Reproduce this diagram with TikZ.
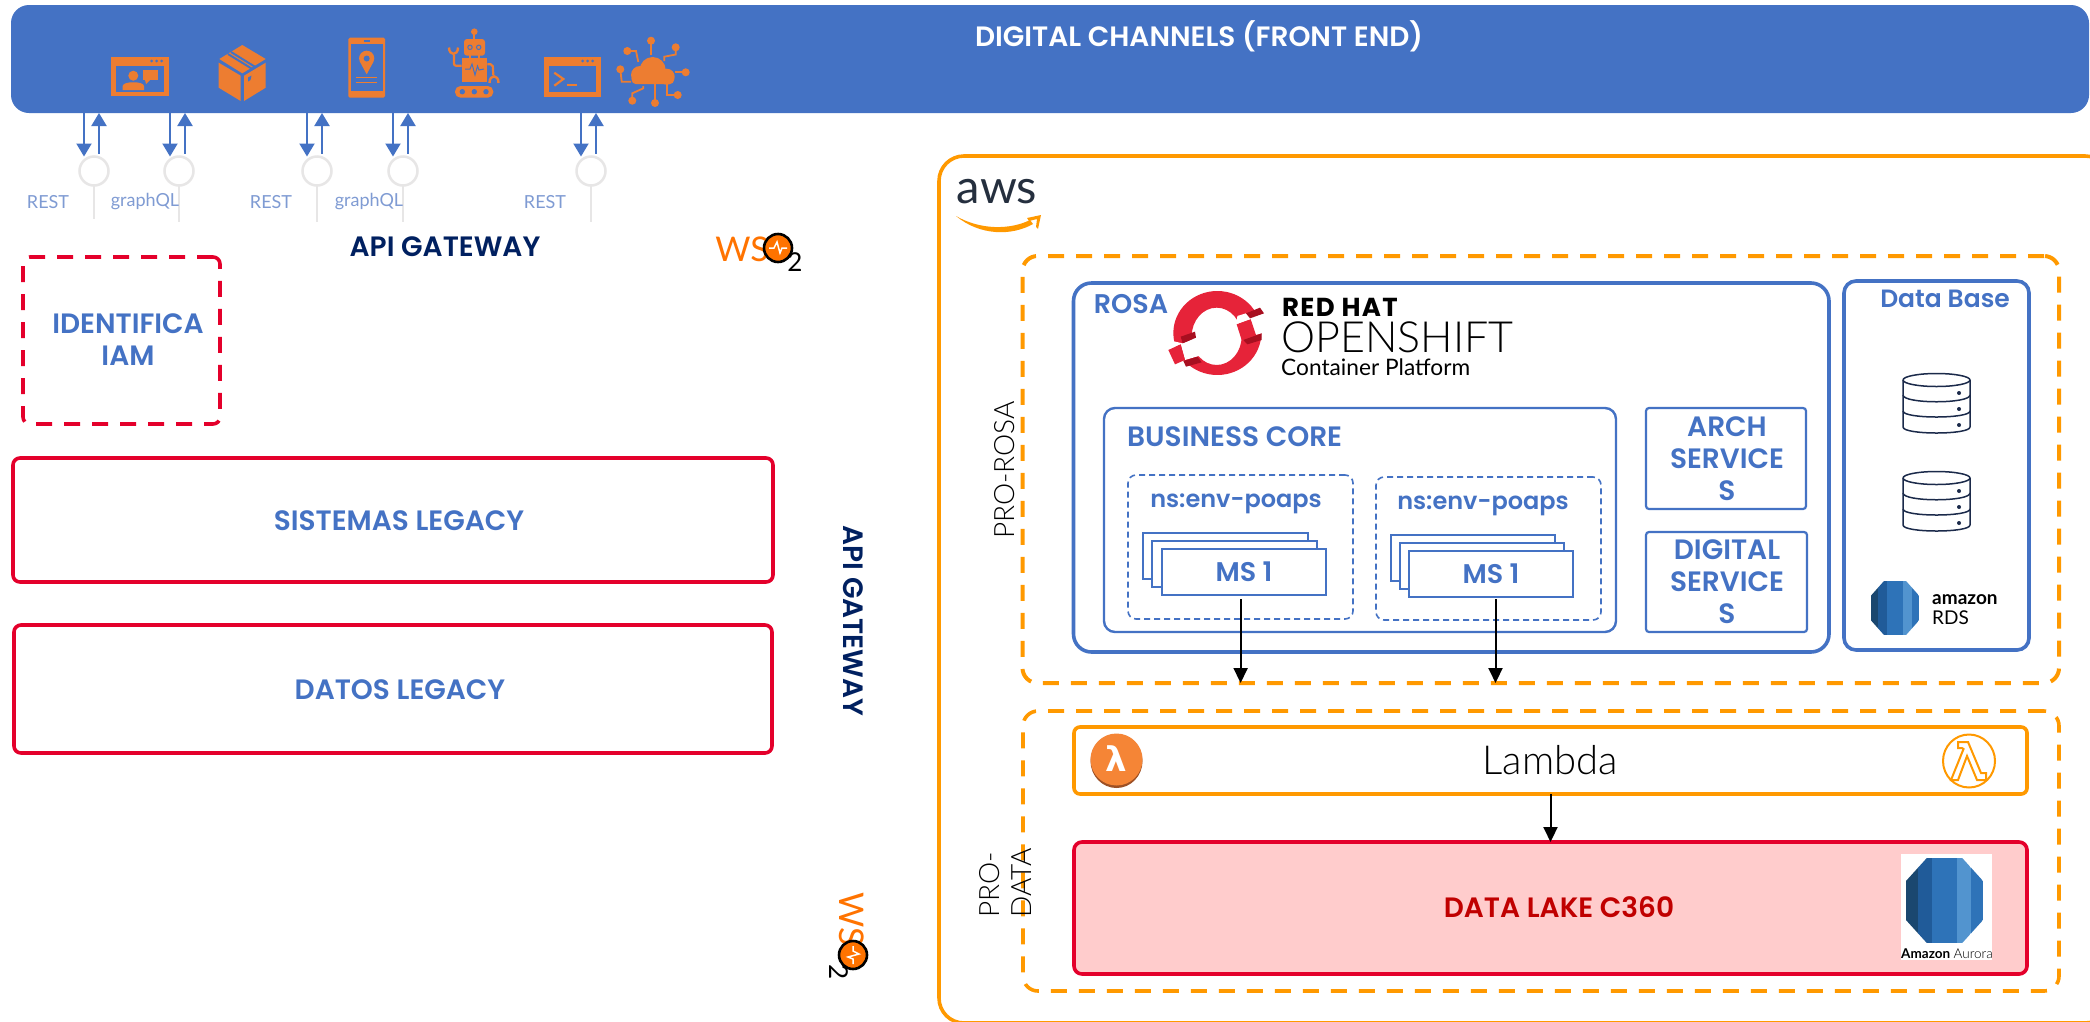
\documentclass[tikz,border=0pt]{standalone}
\usepackage{fontspec}
\usetikzlibrary{arrows.meta}
\setmainfont{Poppins}[BoldFont=Poppins SemiBold]
\newfontfamily\thinf{Lato Light}
\newfontfamily\lato{Lato}
\newfontfamily\rhf{Poppins Bold}[LetterSpace=5]
\newfontfamily\dejav{DejaVu Sans}
\definecolor{blu}{HTML}{4472C4}
\definecolor{org}{HTML}{ED7D31}
\definecolor{aws}{HTML}{FF9900}
\definecolor{rd}{HTML}{E4002B}
\definecolor{navy}{HTML}{002060}
\definecolor{gry}{HTML}{E7E6E6}
\definecolor{lbl}{HTML}{7F9BD3}
\definecolor{wso}{HTML}{FF7300}
\definecolor{rh}{HTML}{E62339}
\definecolor{rhd}{HTML}{A80F20}
\definecolor{dbn}{HTML}{1B2A4A}
\newcommand{\fs}[2]{\fontsize{#1}{#2}\selectfont}
\newcommand{\bx}[7]{\pgfmathsetmacro\bw{#4-#2}\pgfmathsetmacro\bh{#5-#3}%
  \node[#6,minimum width=\bw pt,minimum height=\bh pt,inner sep=0pt,outer sep=0pt,anchor=north west,align=center] (#1) at (#2,#3) {#7};}
\tikzset{
  hdtxt/.style={text=blu,font=\bfseries\fs{28}{32},align=center,inner sep=0pt},
  soft/.style={text=lbl,font=\lato\fs{18}{20},inner sep=0pt},
  redbox/.style={draw=rd,line width=3.6pt,rounded corners=7pt},
  bluebox/.style={draw=blu,rounded corners=12pt},
  orgdash/.style={draw=aws,line width=4pt,rounded corners=15pt,dash pattern=on 16pt off 12pt},
  msbox/.style={draw=blu,line width=2pt,fill=white},
  nsbox/.style={draw=blu,line width=1.6pt,rounded corners=8pt,dash pattern=on 6pt off 4pt},
  blueline/.style={draw=blu,line width=2pt,-{Triangle[width=15pt,length=13pt]}},
  blackline/.style={draw=black,line width=2pt,-{Triangle[width=14pt,length=15pt]}},
  lolli/.style={circle,draw=gry,line width=2.5pt,minimum size=29pt,inner sep=0pt,outer sep=0pt},
  stem/.style={draw=gry,line width=2.5pt},
  ico/.style={fill=org,draw=none},
  icl/.style={draw=org,line width=1.8pt,fill=none},
  cyl/.pic={
    \begin{scope}
      \clip (0,.27)--(.27,0)--(.73,0)--(1,.27)--(1,.73)--(.73,1)--(.27,1)--(0,.73)--cycle;
      \fill[color={rgb,255:red,26;green,71;blue,111}] (0,0) rectangle (.15,1);
      \fill[color={rgb,255:red,32;green,91;blue,153}] (.15,0) rectangle (.34,1);
      \fill[color={rgb,255:red,46;green,115;blue,184}] (.34,0) rectangle (.66,1);
      \fill[color={rgb,255:red,82;green,148;blue,207}] (.66,0) rectangle (.85,1);
      \fill[color={rgb,255:red,46;green,115;blue,184}] (.85,0) rectangle (1,1);
    \end{scope}
  },
  dbicon/.pic={
    \draw[dbn,line width=1.5pt] (-33.5,0) arc[x radius=33.5,y radius=6.5,start angle=180,end angle=540];
    \draw[dbn,line width=1.5pt] (-33.5,0) -- (-33.5,47) .. controls (-33.5,55) and (33.5,55) .. (33.5,47) -- (33.5,0);
    \draw[dbn,line width=1.5pt] (-33.5,15) .. controls (-33.5,24) and (33.5,24) .. (33.5,15);
    \draw[dbn,line width=1.5pt] (-33.5,31) .. controls (-33.5,39) and (33.5,39) .. (33.5,31);
    \foreach \yy in {13,29,45} \fill[dbn] (22.5,\yy) circle (2pt);
  },
  wsologo/.pic={
    \node[text=wso,font=\lato\fs{34}{35},inner sep=0pt,anchor=center] (ws) at (-36,1) {WS};
    \draw[black,fill=wso,line width=2.6pt] (0,0) circle (14pt);
    \draw[white,line width=1.5pt] (-9,0)--(-4,0)--(-1,-6)--(2,5)--(4,0)--(9,0);
    \node[text=black,font=\lato\fs{26}{26},inner sep=0pt] (two) at (17,14) {2};
  }
}
\begin{document}
\begin{tikzpicture}[x=1pt,y=-1pt]
\useasboundingbox (0,0) rectangle (2090,1021);
\fill[white] (0,0) rectangle (2090,1021);

% top bar
\bx{bar}{11}{5}{2089}{113}{fill=blu,rounded corners=18pt}{}
\node[text=white,font=\bfseries\fs{28}{30},inner sep=0pt] (title) at (1199,36) {DIGITAL CHANNELS (FRONT END)};

% icon 1: window with person
\fill[ico] (111,56.7) rectangle (169,96);
\fill[blu] (116,65.7) rectangle (164,91.7);
\foreach \xx in {151.7,156.7,161.7} \fill[blu] (\xx,61) circle (1.5pt);
\fill[ico] (133.3,75.7) circle (5pt);
\fill[ico] (122.7,90) -- (122.7,86) .. controls (122.7,81) and (144,81) .. (144,86) -- (144,90) -- cycle;
\fill[ico] (142.7,70) rectangle (158.3,80);
\fill[ico] (145,80) -- (146,84) -- (150,80) -- cycle;
% icon 2: parcel
\fill[ico] (242.3,45) -- (265.7,59) -- (242.3,73.3) -- (219.3,59) -- cycle;
\draw[blu,line width=2pt] (231,52) -- (254.5,66.5);
\draw[blu,line width=2pt] (228,54) -- (251.5,68.5);
\fill[ico] (218.7,62.7) -- (240.7,75.7) -- (240.7,101) -- (218.7,87.7) -- cycle;
\fill[ico] (265.7,62.7) -- (244,75.7) -- (244,101) -- (265.7,87.7) -- cycle;
\fill[blu] (248,77.5) -- (251.5,75.5) -- (250.5,80) -- (248,81.5) -- cycle;
% icon 3: phone
\fill[ico,rounded corners=1.5pt] (348.3,37.7) rectangle (385,97.7);
\fill[blu] (350.7,44.3) rectangle (382.7,91);
\draw[blu,line width=1.5pt] (363.5,41) -- (370,41);
\fill[ico] (366.7,74.3) -- (359.8,61.5) arc[radius=7.6pt,start angle=205,end angle=-25] -- cycle;
\fill[blu] (366.7,58.5) circle (3pt);
\draw[icl,line width=1.4pt] (356,77.3) -- (377.3,77.3) (356,82.3) -- (377.3,82.3);
% icon 4: robot
\fill[ico] (474.3,31.7) circle (3.3pt);
\draw[icl] (474.3,32) -- (474.3,40);
\fill[ico,rounded corners=3pt] (464,39) rectangle (485,55.7);
\draw[blu,line width=1pt] (470,47.3) circle (2.2pt) (478.7,47.3) circle (2.2pt);
\fill[ico] (461.7,58.3) rectangle (487.3,82.3);
\draw[blu,line width=1pt] (465,69) -- (470,69) -- (472,64) -- (475,75) -- (477.5,66) -- (479,70) -- (484,69);
\draw[icl,line width=2.2pt] (470,55) -- (470,59) (479,55) -- (479,59);
\fill[ico,rounded corners=5.5pt] (455,86) rectangle (493.3,97.7);
\foreach \xx in {462.3,474.3,486} \fill[blu] (\xx,91.7) circle (2.7pt);
\draw[icl,line width=2.2pt,rounded corners=2pt] (461.7,65.7) -- (454,65.7) -- (454,55);
\draw[icl,line width=2.4pt] (449,47.5) .. controls (449,56) and (458,56) .. (458,47.5);
\draw[icl,line width=2.2pt,rounded corners=2pt] (487.3,64.3) -- (492.7,64.3) -- (493.3,75);
\draw[icl,line width=2.4pt] (489.5,83) .. controls (489.5,74) and (498.5,74) .. (498.5,83);
% icon 5: terminal
\fill[ico] (544,56.7) rectangle (600.7,96.7);
\fill[blu] (549.3,65.7) rectangle (595.7,92.3);
\foreach \xx in {582.7,587.7,592.7} \fill[blu] (\xx,61) circle (1.5pt);
\draw[icl,line width=2.2pt] (554.3,72.7) -- (563.3,79) -- (554.3,85.7);
\draw[icl,line width=2.2pt] (566.7,85) -- (576.7,85);
% icon 6: cloud
\fill[ico] (640,75) circle (9pt) (652.7,70) circle (13pt) (666.7,76.7) circle (8pt);
\fill[ico,rounded corners=4pt] (631.7,74) rectangle (674,84);
\foreach \ax/\ay in {651/40.7,627.3/51,675.7/47.3,685.7/72.3,620.3/69.3,632.3/100.7,655/103,677.7/95} \fill[ico] (\ax,\ay) circle (4pt);
\draw[icl] (651,41) -- (651,55);
\draw[icl] (627.3,51) -- (636,51) -- (638.3,62);
\draw[icl] (675.7,47.3) -- (675.7,54.5) -- (664.3,56.7) -- (664.3,61);
\draw[icl] (685.7,72.3) -- (675,72.3);
\draw[icl] (620.3,69.3) -- (621.7,81.7) -- (631,81.7);
\draw[icl] (632.3,100.7) -- (632.3,93.3) -- (643.3,88.3) -- (643.3,86);
\draw[icl] (655,103) -- (655,84);
\draw[icl] (677.7,95) -- (667.3,95) -- (667.3,84);

% interfaces
\foreach \i/\dx/\ux/\cx/\ln in {1/84/99/94/33,2/170/185/179/36,3/307/322/317/36,4/393/408/403/36,5/581/596/591/36}{
  \node[lolli] (l\i) at (\cx,171) {};
  \draw[stem] (l\i.south) -- ++(0,\ln);
  \coordinate (dn\i) at (\dx,0);
  \coordinate (up\i) at (\ux,0);
  \draw[blueline] (dn\i |- bar.south) -- (dn\i |- l\i.north);
  \draw[blueline] (up\i |- l\i.north) ++(0,-3) -- (up\i |- bar.south);
}
\node[soft] (r1) at (48,202) {REST};
\node[soft] (g1) at (145,202) {graphQL};
\node[soft] (r2) at (271,202) {REST};
\node[soft] (g2) at (369,202) {graphQL};
\node[soft] (r3) at (545,202) {REST};

\node[text=navy,font=\bfseries\fs{28}{30},inner sep=0pt] (gw1) at (445,247) {API GATEWAY};
\node[text=navy,font=\bfseries\fs{28}{30},inner sep=0pt,rotate=-90] (gw2) at (853,621) {API GATEWAY};
\pic (wa) at (778,248) {wsologo};
\begin{scope}[shift={(853,955)},rotate=-90,transform shape]
  \pic (wb) at (0,0) {wsologo};
\end{scope}

% left boxes
\bx{iam}{23}{257}{220}{424}{redbox,dash pattern=on 16pt off 12pt}{}
\node[hdtxt] (iamt) at (128,340) {IDENTIFICA\\IAM};
\bx{sis}{13}{458}{773}{582}{redbox}{}
\node[hdtxt] (sist) at (399,521) {SISTEMAS LEGACY};
\bx{dat}{14}{625}{772}{753}{redbox}{}
\node[hdtxt] (datt) at (400,689.5) {DATOS LEGACY};

% aws
\bx{awsb}{939}{156}{2110}{1023}{draw=aws,line width=3.6pt,rounded corners=25pt}{}
\node[text={rgb,255:red,37;green,47;blue,62},font=\lato\fs{47}{50},inner sep=0pt] (awst) at (997,192) {aws};
\fill[aws] (956,216) .. controls (980,236) and (1012,236) .. (1033,224) -- (1030,220) .. controls (1010,230) and (980,230) .. cycle;
\fill[aws] (1027,218) -- (1041,215) -- (1038,229) -- (1036,227) -- (1037,219) -- (1029,221) -- cycle;

\bx{prorosa}{1022.5}{256}{2059}{683}{orgdash}{}
\bx{prodata}{1023}{711}{2059}{991}{orgdash,line width=3.6pt}{}
\node[text=black,font=\thinf\fs{28}{30},inner sep=0pt,rotate=90] (prt) at (1005,470) {PRO-ROSA};
\node[text=black,font=\thinf\fs{28}{32},inner sep=0pt,rotate=90,align=left,anchor=west] (pdt) at (1005,918) {PRO-\\DATA};

% rosa
\bx{rosa}{1073.5}{283}{1829}{652}{bluebox,line width=3.6pt,rounded corners=18pt}{}
\node[text=blu,font=\bfseries\fs{27}{30},inner sep=0pt] (rosat) at (1131,304) {ROSA};

% openshift logo
\begin{scope}[shift={(1160,285)},x=.3333pt,y=-.3333pt]
\fill[rh,even odd rule] (172,144) ellipse[x radius=132,y radius=126] (170,154) ellipse[x radius=75,y radius=86];
\fill[white] (10,162) -- (68,175) -- (108,158) -- (120,212) -- (75,225) -- (62,178) -- (25,195) -- (10,200) -- cycle;
\fill[white] (232,93) -- (258,85) -- (312,85) -- (320,135) -- (300,147) -- (285,150) -- (272,103) -- (230,118) -- cycle;
\fill[rh] (25,195) -- (62,178) -- (75,225) -- (45,238) -- cycle;
\fill[rh] (230,118) -- (272,103) -- (288,150) -- (245,165) -- cycle;
\fill[rhd] (258,85) -- (300,68) -- (312,85) -- (270,100) -- cycle;
\fill[rhd] (250,165) -- (305,145) -- (305,165) -- (262,178) -- cycle;
\fill[rhd] (62,155) -- (105,140) -- (108,158) -- (68,175) -- cycle;
\fill[rhd] (70,228) -- (112,215) -- (125,232) -- (78,245) -- cycle;
\end{scope}
\node[text=black,font=\rhf\fs{26}{28},inner sep=0pt,anchor=west] (rht) at (1282,307) {RED HAT};
\node[text=black,font=\thinf\fs{43}{44},inner sep=0pt,anchor=west] (ost) at (1281,337) {OPENSHIFT};
\node[text=black,font=\lato\fs{22.7}{24},inner sep=0pt,anchor=west] (cpt) at (1281,367) {Container Platform};

% business core
\bx{core}{1104}{408}{1616}{632}{bluebox,line width=2.4pt,rounded corners=11pt}{}
\node[hdtxt,anchor=west] (coret) at (1127,437) {BUSINESS CORE};
\bx{ns1}{1128}{475}{1353}{619}{nsbox}{}
\bx{ns2}{1376}{477}{1601}{620}{nsbox}{}
\node[hdtxt,font=\fs{24}{28}\bfseries] (ns1t) at (1236,504) {ns:env-poaps};
\node[hdtxt,font=\fs{24}{28}\bfseries] (ns2t) at (1483,506) {ns:env-poaps};
\bx{ma}{1143}{533}{1308}{579}{msbox}{}
\bx{mb}{1152}{541}{1317}{587}{msbox}{}
\bx{mc}{1162}{549}{1326}{595}{msbox}{}
\node[hdtxt,font=\bfseries\fs{27}{30}] (mct) at (mc) {MS 1};
\bx{na}{1391}{535}{1555}{581}{msbox}{}
\bx{nb}{1400}{543}{1564}{589}{msbox}{}
\bx{nc}{1409}{551}{1573}{597}{msbox}{}
\node[hdtxt,font=\bfseries\fs{27}{30}] (nct) at (nc) {MS 1};
\bx{arch}{1646}{408}{1806}{509}{draw=blu,line width=2.2pt,rounded corners=3pt}{}
\node[hdtxt] (archt) at (1727,459) {ARCH\\SERVICE\\S};
\bx{dig}{1646}{532}{1807}{632}{draw=blu,line width=2.2pt,rounded corners=3pt}{}
\node[hdtxt] (digt) at (1727,582) {DIGITAL\\SERVICE\\S};

% database
\bx{dbb}{1844}{281}{2029}{650}{bluebox,line width=3.6pt}{}
\node[text=blu,font=\bfseries\fs{25}{28},inner sep=0pt] (dbt) at (1945,299) {Data Base};
\pic (dba) at (1936.5,380) {dbicon};
\pic (dbb2) at (1936.5,478) {dbicon};
\begin{scope}[shift={(1871,581)},xscale=48,yscale=54,transform shape]
  \pic (rdsp) at (0,0) {cyl};
\end{scope}
\node[text=black,font=\lato\bfseries\fs{19}{20},inner sep=0pt,anchor=west] (amz) at (1932,600) {amazon};
\node[text=black,font=\lato\fs{19}{20},inner sep=0pt,anchor=west] (rds) at (1932,618) {RDS};

% lambda
\bx{lam}{1074}{727}{2027}{794}{draw=aws,line width=3.6pt,rounded corners=6pt}{}
\node[text=black,font=\thinf\fs{40}{42},inner sep=0pt] (lamt) at (1550,760) {Lambda};
\fill[color={rgb,255:red,157;green,80;blue,37}] (1116.5,761) ellipse[x radius=26,y radius=27];
\fill[color={rgb,255:red,245;green,133;blue,54}] (1116.5,759.5) ellipse[x radius=26,y radius=26];
\node[text=white,font=\dejav\bfseries\fs{34}{36},inner sep=0pt] (lamg) at (1116.5,759) {λ};
\draw[aws,line width=2pt] (1969,761) ellipse[x radius=26,y radius=26.5];
\draw[aws,line width=2pt,line join=miter] (1958,742) -- (1968,742) -- (1981,773) -- (1986,773) -- (1986,780) -- (1977,780) -- (1967,756) -- (1958,780) -- (1951,780) -- (1963.5,749) -- (1962,748) -- (1958,748) -- cycle;

% data lake
\bx{lake}{1074}{842}{2027}{974}{draw=rd,fill={rgb,255:red,255;green,204;blue,204},line width=3.6pt,rounded corners=8pt}{}
\node[text={rgb,255:red,192;green,0;blue,0},font=\bfseries\fs{28}{30},inner sep=0pt] (laket) at (1559,907) {DATA LAKE C360};
\fill[white] (1900.5,854) rectangle (1992,960);
\begin{scope}[shift={(1906,858)},xscale=77,yscale=85,transform shape]
  \pic (aurp) at (0,0) {cyl};
\end{scope}
\node[text=black,font=\lato\fs{13.5}{14},inner sep=0pt] (aurt) at (1947,954) {\textbf{Amazon} {\thinf Aurora}};

% arrows
\coordinate (a1) at (1240.6,599);
\coordinate (a2) at (1495.5,599);
\draw[blackline] (a1) -- (a1 |- prorosa.south);
\draw[blackline] (a2) -- (a2 |- prorosa.south);
\draw[blackline] (lam.south) -- (lake.north);
\end{tikzpicture}
\end{document}
